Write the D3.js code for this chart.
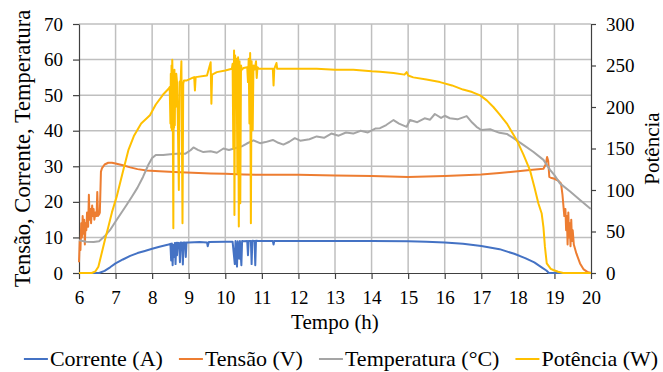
<!DOCTYPE html>
<html lang="pt">
<head>
<meta charset="UTF-8">
<title>Tensão, Corrente, Temperatura e Potência</title>
<script src="https://d3js.org/d3.v7.min.js"></script>
<style>
	body { margin: 0; background: #fff; }
	svg { display: block; }
	svg text { font-family: "Liberation Serif", "Times New Roman", serif !important; fill: #000; }
</style>
</head>
<body>
<div id="chart"></div>
<script>
	const W = 663, H = 372;

	// Corrente (A)
	const tCorrente = [6.0, 6.55, 6.7, 6.85, 7.0, 7.2, 7.4, 7.6, 7.8, 8.0, 8.2, 8.45,
		8.5, 8.52, 8.54, 8.56, 8.58, 8.6, 8.62, 8.64, 8.66, 8.68, 8.7, 8.74, 8.76, 8.78, 8.82, 8.84, 8.86, 8.9, 8.92, 8.94,
		9.0, 9.3, 9.5, 9.52, 9.55, 10.0, 10.2,
		10.26, 10.28, 10.32, 10.34, 10.38, 10.4, 10.44, 10.46, 10.5, 10.6, 10.62, 10.64, 10.7, 10.72, 10.74, 10.8, 10.82, 10.84, 10.9,
		11.0, 11.3, 11.32, 11.34, 12, 13, 14, 15, 15.5, 16, 16.5, 17, 17.5, 17.9, 18.2, 18.45, 18.65, 18.78, 18.85, 20];
	const corrente = [0, 0, 0.6, 1.6, 2.7, 3.8, 4.8, 5.6, 6.2, 6.8, 7.4, 8.0,
		8.2, 3.5, 8.3, 2.2, 7.9, 4.5, 8.4, 2.5, 8.5, 5.0, 8.5, 8.4, 3.0, 8.6, 8.5, 2.4, 8.6, 8.6, 4.5, 8.6,
		8.6, 8.7, 8.6, 7.5, 8.7, 8.8, 8.8,
		2.5, 9.0, 1.8, 8.9, 4.0, 9.0, 2.2, 9.0, 8.9, 9.0, 5.0, 9.0, 9.0, 2.5, 9.1, 9.0, 2.2, 9.1, 9.0,
		9.0, 9.0, 8.0, 9.0, 9.0, 9.0, 9.0, 8.9, 8.8, 8.6, 8.2, 7.6, 6.7, 5.4, 4.2, 3.0, 1.6, 0.7, 0, 0];

	// Tensão (V)
	const tTensao = [6.0, 6.02, 6.04, 6.06, 6.08, 6.1, 6.12, 6.14, 6.16, 6.18, 6.2, 6.22, 6.25, 6.27, 6.29, 6.31, 6.33,
		6.36, 6.38, 6.4, 6.42, 6.45, 6.48, 6.5, 6.52, 6.55, 6.57, 6.6, 6.63, 6.7, 6.8, 6.9, 7.0, 7.2, 7.4, 7.6, 7.85,
		8.2, 8.6, 9.1, 9.6, 10, 10.5, 11, 12, 13, 14, 14.5, 15, 15.5, 16, 16.5, 17, 17.5, 18, 18.4, 18.7,
		18.76, 18.8, 18.83, 18.86, 18.9, 19.0, 19.1, 19.18, 19.22, 19.27, 19.3, 19.32, 19.34, 19.36, 19.38, 19.4,
		19.42, 19.44, 19.46, 19.48, 19.5, 19.53, 19.6, 19.7, 19.8, 19.9, 20];
	const tensao = [3, 9, 6.5, 14, 10, 16, 11, 15, 8, 14, 12, 17, 13, 22, 15, 18, 14,
		19, 16, 18, 15, 17, 16, 22.8, 16, 16.5, 17, 28.5, 29.5, 30.5, 31, 31, 30.8, 30.3, 29.7, 29.2, 28.8,
		28.6, 28.4, 28.2, 28.0, 27.9, 27.7, 27.6, 27.6, 27.4, 27.3, 27.1, 27.0, 27.1, 27.3, 27.5, 27.7, 28.1, 28.6, 29.0, 29.3,
		30.5, 32.6, 31.5, 27.0, 26.8, 26.5, 26.0, 25.2, 22, 16, 18, 12, 16, 8, 17, 10,
		14, 7.5, 15, 9, 12, 8, 5.5, 2.7, 1.0, 0.3, 0];

	// Temperatura (°C)
	const tTemp = [6.0, 6.2, 6.4, 6.55, 6.7, 6.85, 7.0, 7.15, 7.3, 7.45, 7.6, 7.75, 7.9, 8.0, 8.1, 8.3, 8.5, 8.76, 8.9,
		9.05, 9.13, 9.25, 9.4, 9.6, 9.77, 9.95, 10.1, 10.31, 10.45, 10.59, 10.77, 10.95, 11.1, 11.3, 11.45, 11.59, 11.75,
		11.9, 12.05, 12.3, 12.5, 12.7, 12.9, 13.1, 13.3, 13.5, 13.7, 13.9, 14.1, 14.23, 14.4, 14.6, 14.75, 14.96, 15.05,
		15.25, 15.45, 15.6, 15.73, 15.9, 16.0, 16.14, 16.35, 16.6, 16.75, 16.87, 17.0, 17.24, 17.5, 17.7, 17.88, 18.15,
		18.42, 18.7, 18.88, 19.0, 19.15, 19.43, 19.7, 19.97, 20];
	const temperatura = [9.2, 8.8, 8.7, 8.9, 10.3, 12.1, 14.5, 16.8, 19.1, 21.5, 24, 27, 30.5, 32.3, 33.2, 33.2, 33.4, 33.6, 33.5,
		34.5, 35.3, 34.6, 34.0, 34.2, 33.8, 35.0, 34.6, 35.2, 35.6, 36.4, 37.3, 36.5, 36.8, 37.4, 36.6, 36.1, 36.9,
		37.9, 37.2, 37.6, 38.4, 38.0, 39.2, 38.6, 39.5, 39.2, 40.0, 39.5, 40.6, 40.7, 41.6, 43.0, 42.0, 41.1, 43.0,
		42.4, 43.5, 43.1, 44.7, 43.6, 44.2, 43.5, 43.2, 44.1, 42.3, 41.1, 40.2, 40.4, 39.4, 39.1, 37.9, 36.0,
		34.1, 31.8, 29.0, 27.5, 25.2, 22.9, 20.5, 18.2, 18.1];

	// Potência (W)
	const tPotencia = [6.0, 6.35, 6.45, 6.53, 6.62, 6.71, 6.8, 6.9, 7.03, 7.2, 7.35, 7.5, 7.7, 7.94, 8.1, 8.3, 8.45,
		8.48, 8.5, 8.51, 8.52, 8.53, 8.54, 8.55, 8.56, 8.58, 8.59, 8.6, 8.61, 8.62, 8.63, 8.64, 8.66, 8.68, 8.7, 8.73,
		8.75, 8.78, 8.8, 8.83, 8.85, 8.87, 8.9, 8.95, 9.1, 9.15, 9.17, 9.19, 9.5, 9.6, 9.62, 9.64, 9.77, 10.0, 10.18,
		10.2, 10.22, 10.24, 10.25, 10.27, 10.29, 10.31, 10.33, 10.35, 10.37, 10.39, 10.41, 10.43, 10.45, 10.5,
		10.6, 10.62, 10.64, 10.66, 10.68, 10.7, 10.72, 10.75, 10.77, 10.8, 10.84, 10.86, 10.88, 10.92,
		11.0, 11.3, 11.32, 11.34, 11.4, 11.42, 12, 12.5, 13, 13.5, 14, 14.23, 14.6, 14.9, 14.96, 15.0, 15.14, 15.5,
		15.87, 16.2, 16.5, 16.75, 16.97, 17.15, 17.33, 17.5, 17.7, 17.97, 18.15, 18.33, 18.45, 18.56, 18.65, 18.7,
		18.74, 18.79, 18.9, 18.97, 19.1, 19.24, 20];
	const potencia = [0, 0, 2, 7.6, 23.7, 40, 55, 73, 92, 122, 148, 165, 180, 190, 203, 215, 222,
		224, 180, 240, 175, 250, 172, 257, 238, 54, 240, 175, 245, 178, 235, 200, 240, 230, 190, 100,
		230, 232, 255, 60, 228, 232, 232, 232, 235, 236, 220, 236, 238, 254, 204, 239, 242, 244, 246,
		252, 150, 268, 70, 262, 200, 258, 120, 260, 56, 255, 84, 250, 245, 247,
		248, 230, 258, 180, 265, 60, 255, 172, 250, 245, 255, 235, 248, 246,
		246, 246, 226, 246, 253, 246, 246, 246, 245, 245, 243, 242.5, 241, 239, 242, 238, 235.7, 233,
		230, 226, 221, 218, 214, 208, 200, 191, 180, 160, 143, 124, 104, 84, 72, 55,
		31.7, 11.7, 5, 3.6, 1.5, 0, 0];

	const xTicks = d3.range(6, 21, 1);
	const yLeftTicks = d3.range(0, 71, 10);
	const yRightTicks = d3.range(0, 301, 50);

	const series = [
		{ name: "Corrente (A)", t: tCorrente, v: corrente, color: "#4472C4", axis: "left" },
		{ name: "Tensão (V)", t: tTensao, v: tensao, color: "#ED7D31", axis: "left" },
		{ name: "Temperatura (°C)", t: tTemp, v: temperatura, color: "#A5A5A5", axis: "left" },
		{ name: "Potência (W)", t: tPotencia, v: potencia, color: "#FFC000", axis: "right" }
	];

	const margin = { top: 24, right: 72, bottom: 99, left: 79 };
	const x0 = margin.left, x1 = W - margin.right, y0 = H - margin.bottom, y1 = margin.top;

	const x = d3.scaleLinear().domain([6, 20]).range([x0, x1]);
	const yL = d3.scaleLinear().domain([0, 70]).range([y0, y1]);
	const yR = d3.scaleLinear().domain([0, 300]).range([y0, y1]);

	const svg = d3.create("svg").attr("width", W).attr("height", H)
		.attr("font-family", "'Liberation Serif', serif");
	document.getElementById("chart").append(svg.node());

	// gridlines
	const grid = svg.append("g").attr("stroke", "#BFBFBF").attr("stroke-width", 1.5);
	xTicks.slice(1, -1).forEach(d => {
		grid.append("line").attr("x1", x(d)).attr("x2", x(d)).attr("y1", y0).attr("y2", y1);
	});
	yLeftTicks.slice(1).forEach(d => {
		grid.append("line").attr("x1", x0).attr("x2", x1).attr("y1", yL(d)).attr("y2", yL(d));
	});

	// axes
	const axisColor = "#404040";
	const gx = svg.append("g").attr("transform", `translate(0,${y0})`)
		.call(d3.axisBottom(x).tickValues(xTicks).tickSize(6).tickSizeOuter(0).tickPadding(12).tickFormat(d3.format("d")));
	const gl = svg.append("g").attr("transform", `translate(${x0},0)`)
		.call(d3.axisLeft(yL).tickValues(yLeftTicks).tickSize(6).tickSizeOuter(0).tickPadding(10));
	const gr = svg.append("g").attr("transform", `translate(${x1},0)`)
		.call(d3.axisRight(yR).tickValues(yRightTicks).tickSize(5).tickSizeOuter(0).tickPadding(10));
	[gx, gl, gr].forEach(g => {
		g.attr("font-family", null);
		g.selectAll("path, line").attr("stroke", axisColor).attr("stroke-width", 1.2);
		g.selectAll("text").style("font-size", "19px").attr("fill", "#000");
	});

	// lines
	series.forEach(s => {
		const y = s.axis === "left" ? yL : yR;
		const pts = s.t.map((t, i) => [t, s.v[i]]);
		svg.append("path")
			.datum(pts)
			.attr("fill", "none")
			.attr("stroke", s.color)
			.attr("stroke-width", 2)
			.attr("stroke-linejoin", "round")
			.attr("d", d3.line().x(d => x(d[0])).y(d => y(d[1])));
	});

	// axis titles
	svg.append("text")
		.attr("transform", `translate(30,${(y0 + y1) / 2}) rotate(-90)`)
		.attr("text-anchor", "middle")
		.style("font-size", "22.5px")
		.text("Tensão, Corrente, Temperatura");
	svg.append("text")
		.attr("transform", `translate(659,${(y0 + y1) / 2}) rotate(-90)`)
		.attr("text-anchor", "middle")
		.style("font-size", "21px")
		.text("Potência");
	svg.append("text")
		.attr("x", (x0 + x1) / 2)
		.attr("y", 329)
		.attr("text-anchor", "middle")
		.style("font-size", "21px")
		.text("Tempo (h)");

	// legend
	const legend = svg.append("g");
	const gap = 16;
	let lx = 0;
	series.forEach(s => {
		const item = legend.append("g").attr("transform", `translate(${lx},0)`);
		item.append("line").attr("x1", 0).attr("x2", 24).attr("y1", 0).attr("y2", 0)
			.attr("stroke", s.color).attr("stroke-width", 2);
		const t = item.append("text").attr("x", 26).attr("y", 7).style("font-size", "22px").text(s.name);
		lx += 26 + t.node().getComputedTextLength() + gap;
	});
	const lw = lx - gap;
	legend.attr("transform", `translate(${341 - lw / 2},359)`);
</script>
</body>
</html>
